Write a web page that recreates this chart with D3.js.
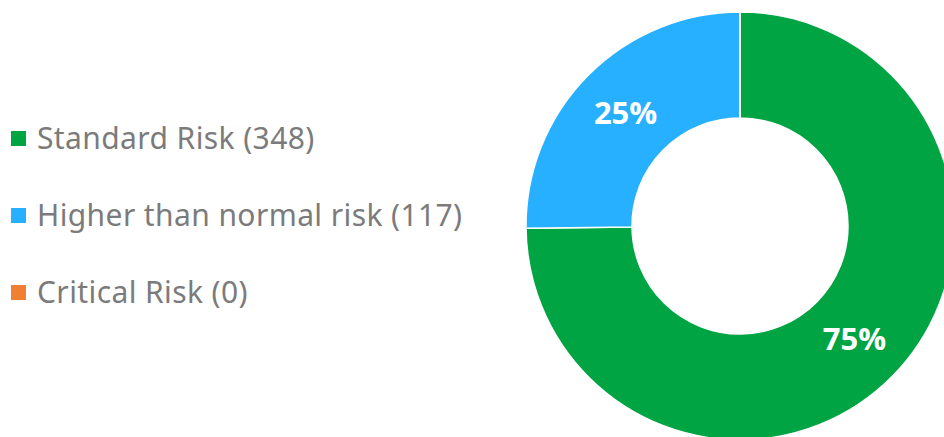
<!DOCTYPE html>
<html>
<head>
<meta charset="utf-8">
<script src="https://cdn.jsdelivr.net/npm/d3@7"></script>
<style>
  body { margin: 0; background: #fff; }
  svg { display: block; }
</style>
</head>
<body>
<div id="chart"></div>
<script>
/* DATA */
const categories = ["Standard Risk", "Higher than normal risk", "Critical Risk"];
const counts = [348, 117, 0];
const colors = ["#00a443", "#27b0ff", "#ee7f33"];

/* CONSTANTS */
const width = 944,
  height = 437,
  cx = 740,
  cy = 226,
  outerR = 214,
  innerR = 108;

const data = categories.map((c, i) => ({ name: c, value: counts[i], color: colors[i] }));
const total = d3.sum(counts);

const svg = d3.select("#chart")
  .append("svg")
  .attr("width", width)
  .attr("height", height);

// donut
const pie = d3.pie().sort(null).value(d => d.value);
const arc = d3.arc().innerRadius(innerR).outerRadius(outerR);

const g = svg.append("g").attr("transform", `translate(${cx},${cy})`);

g.selectAll("path")
  .data(pie(data))
  .join("path")
  .attr("d", arc)
  .attr("fill", d => d.data.color)
  .attr("stroke", "#fff")
  .attr("stroke-width", 1.5);

// percentage labels
g.selectAll("text")
  .data(pie(data).filter(d => d.data.value > 0))
  .join("text")
  .attr("transform", d => `translate(${arc.centroid(d)})`)
  .attr("text-anchor", "middle")
  .attr("dy", "0.36em")
  .attr("fill", "#fff")
  .attr("font-family", "'Open Sans', sans-serif")
  .attr("font-weight", 700)
  .attr("font-size", 31)
  .text(d => Math.round(d.data.value / total * 100) + "%");

// legend
const legendY = d3.scalePoint().domain(categories).range([149, 303]);

const legend = svg.append("g")
  .selectAll("g")
  .data(data)
  .join("g")
  .attr("transform", d => `translate(0,${legendY(d.name)})`);

legend.append("rect")
  .attr("x", 11)
  .attr("y", -18)
  .attr("width", 15)
  .attr("height", 15)
  .attr("fill", d => d.color);

legend.append("text")
  .attr("x", 37)
  .attr("y", 0)
  .attr("fill", "#7b7b7b")
  .attr("font-family", "'Noto Sans', sans-serif")
  .attr("font-size", 30)
  .attr("letter-spacing", 0.4)
  .text(d => `${d.name} (${d.value})`);
</script>
</body>
</html>
